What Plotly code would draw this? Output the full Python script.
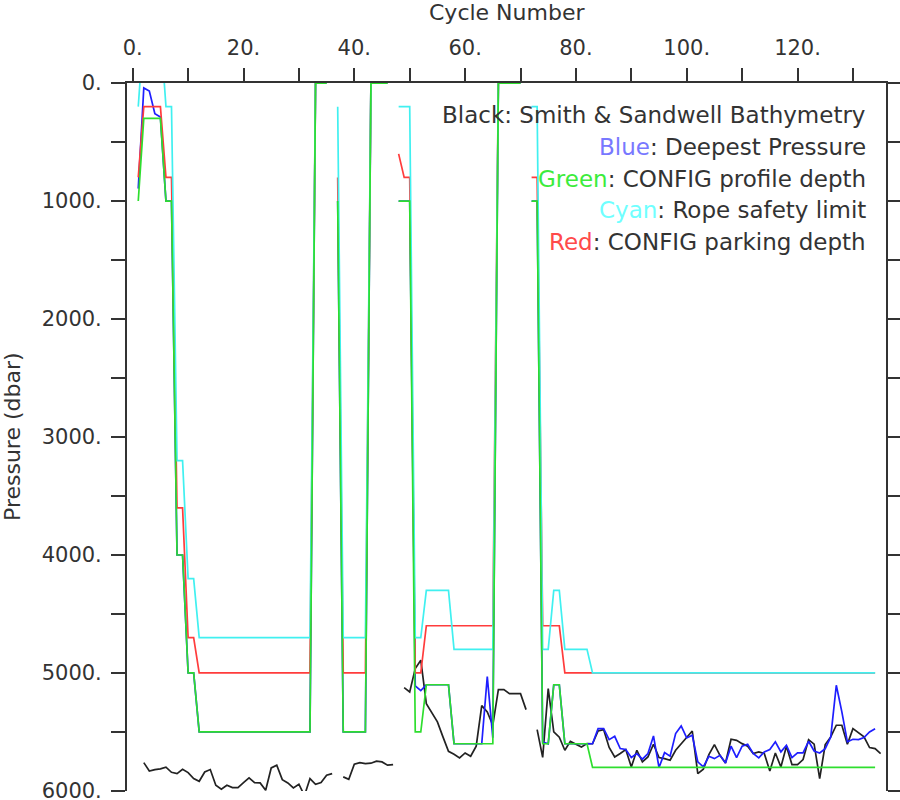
import plotly.graph_objects as go

# ---- data ----
cycles = list(range(1, 135))            # cycles for blue/green/cyan/red
black_cycles = list(range(2, 136))      # bathymetry is listed one cycle later

green = [
    1000, 300, 300, 300, 300, 1000, 1000, 4000, 4000, 5000,
    5000, 5500, 5500, 5500, 5500, 5500, 5500, 5500, 5500, 5500,
    5500, 5500, 5500, 5500, 5500, 5500, 5500, 5500, 5500, 5500,
    5500, 5500, 0, 0, 0, None, 1000, 5500, 5500, 5500,
    5500, 5500, 0, 0, 0, 0, None, 1000, 1000, 1000,
    5500, 5500, 5100, 5100, 5100, 5100, 5100, 5600, 5600, 5600,
    5600, 5600, 5600, 5600, 5600, 0, 0, 0, 0, 0,
    None, 1000, 1000, 5600, 5600, 5100, 5100, 5600, 5600, 5600,
    5600, 5600, 5800, 5800, 5800, 5800, 5800, 5800, 5800, 5800,
    5800, 5800, 5800, 5800, 5800, 5800, 5800, 5800, 5800, 5800,
    5800, 5800, 5800, 5800, 5800, 5800, 5800, 5800, 5800, 5800,
    5800, 5800, 5800, 5800, 5800, 5800, 5800, 5800, 5800, 5800,
    5800, 5800, 5800, 5800, 5800, 5800, 5800, 5800, 5800, 5800,
    5800, 5800, 5800, 5800,
]

red = [
    800, 200, 200, 200, 200, 800, 800, 3600, 3600, 4700,
    4700, 5000, 5000, 5000, 5000, 5000, 5000, 5000, 5000, 5000,
    5000, 5000, 5000, 5000, 5000, 5000, 5000, 5000, 5000, 5000,
    5000, 5000, 0, 0, 0, None, 800, 5000, 5000, 5000,
    5000, 5000, 0, 0, 0, 0, None, 600, 800, 800,
    5000, 5000, 4600, 4600, 4600, 4600, 4600, 4600, 4600, 4600,
    4600, 4600, 4600, 4600, 4600, 0, 0, 0, 0, 0,
    None, 800, 800, 4600, 4600, 4600, 4600, 5000, 5000, 5000,
    5000, 5000, 5000, 5000, 5000, 5000, 5000, 5000, 5000, 5000,
    5000, 5000, 5000, 5000, 5000, 5000, 5000, 5000, 5000, 5000,
    5000, 5000, 5000, 5000, 5000, 5000, 5000, 5000, 5000, 5000,
    5000, 5000, 5000, 5000, 5000, 5000, 5000, 5000, 5000, 5000,
    5000, 5000, 5000, 5000, 5000, 5000, 5000, 5000, 5000, 5000,
    5000, 5000, 5000, 5000,
]

cyan = [
    200, -470, -470, -470, -470, 200, 200, 3200, 3200, 4200,
    4200, 4700, 4700, 4700, 4700, 4700, 4700, 4700, 4700, 4700,
    4700, 4700, 4700, 4700, 4700, 4700, 4700, 4700, 4700, 4700,
    4700, 4700, 0, 0, 0, None, 200, 4700, 4700, 4700,
    4700, 4700, 0, 0, 0, 0, None, 200, 200, 200,
    4700, 4700, 4300, 4300, 4300, 4300, 4300, 4800, 4800, 4800,
    4800, 4800, 4800, 4800, 4800, 0, 0, 0, 0, 0,
    None, 200, 200, 4800, 4800, 4300, 4300, 4800, 4800, 4800,
    4800, 4800, 5000, 5000, 5000, 5000, 5000, 5000, 5000, 5000,
    5000, 5000, 5000, 5000, 5000, 5000, 5000, 5000, 5000, 5000,
    5000, 5000, 5000, 5000, 5000, 5000, 5000, 5000, 5000, 5000,
    5000, 5000, 5000, 5000, 5000, 5000, 5000, 5000, 5000, 5000,
    5000, 5000, 5000, 5000, 5000, 5000, 5000, 5000, 5000, 5000,
    5000, 5000, 5000, 5000,
]

blue = [
    895, 42, 68, 260, 288, 1000, 1000, 4000, 4000, 5000,
    5000, 5500, 5500, 5500, 5500, 5500, 5500, 5500, 5500, 5500,
    5500, 5500, 5500, 5500, 5500, 5500, 5500, 5500, 5500, 5500,
    5500, 5500, 0, 0, 0, None, 1000, 5500, 5500, 5500,
    5500, 5500, 0, 0, 0, 0, None, 1000, 1000, 1000,
    5110, 5150, 5100, 5100, 5100, 5100, 5100, 5600, 5600, 5600,
    5600, 5600, 5600, 5030, 5550, 0, 0, 0, 0, 0,
    None, 1000, 1000, 5585, 5600, 5100, 5100, 5600, 5600, 5600,
    5600, 5600, 5600, 5472, 5472, 5565, 5537, 5641, 5649, 5717,
    5683, 5731, 5683, 5534, 5802, 5675, 5706, 5514, 5449, 5551,
    5528, 5754, 5797, 5706, 5726, 5698, 5763, 5621, 5717, 5621,
    5604, 5683, 5720, 5669, 5649, 5584, 5669, 5613, 5717, 5678,
    5678, 5579, 5661, 5678, 5641, 5542, 5104, 5330, 5584, 5562,
    5565, 5548, 5500, 5472,
]

black = [
    5760, 5831, 5819, 5813, 5799, 5842, 5853, 5816, 5845,
    5895, 5918, 5839, 5819, 5952, 5986, 5952, 5972, 5972, 5929,
    5890, 5929, 5932, 5994, 5805, 5782, 5904, 5932, 5975, 5943,
    6040, 5895, 5943, 5929, 5867, 5853, None, 5881, 5901, 5774,
    5760, 5768, 5765, 5748, 5754, 5782, 5777, None, 5124, 5161,
    4963, 4892, 5260, 5339, 5415, 5542, 5664, 5689, 5720, 5678,
    5706, 5621, 5277, 5330, 5443, 5141, 5141, 5175, 5175, 5175,
    5311, None, 5480, 5715, 5133, 5500, 5545, 5655, 5580, 5604,
    5627, 5599, 5600, 5492, 5480, 5632, 5712, 5683, 5649, 5797,
    5655, 5754, 5712, 5604, 5717, 5726, 5740, 5655, 5599, 5542,
    5492, 5853, 5815, 5692, 5607, 5698, 5763, 5562, 5571, 5599,
    5621, 5683, 5669, 5683, 5831, 5678, 5797, 5621, 5777, 5777,
    5734, 5565, 5604, 5895, 5607, 5542, 5443, 5443, 5604, 5472,
    5508, 5542, 5632, 5641, 5683,
]

x_tickvals = [0, 10, 20, 30, 40, 50, 60, 70, 80, 90, 100, 110, 120, 130]
x_ticktext = ["0.", "", "20.", "", "40.", "", "60.", "", "80.", "", "100.", "", "120.", ""]
y_tickvals = [0, 500, 1000, 1500, 2000, 2500, 3000, 3500, 4000, 4500, 5000, 5500, 6000]
y_ticktext = ["0.", "", "1000.", "", "2000.", "", "3000.", "", "4000.", "", "5000.", "", "6000."]

legend_lines = [
    ("Black", "#333333", ": Smith & Sandwell Bathymetry"),
    ("Blue", "#7878ff", ": Deepest Pressure"),
    ("Green", "#3cec3c", ": CONFIG profile depth"),
    ("Cyan", "#70ffff", ": Rope safety limit"),
    ("Red", "#ff4a4a", ": CONFIG parking depth"),
]
legend_y = [274, 545, 816, 1079, 1350]

FONT = "DejaVu Sans"
TXT = "#333333"
LW = 1.7

fig = go.Figure()
fig.add_trace(go.Scatter(x=black_cycles, y=black, mode="lines",
                         line=dict(color="#222222", width=LW), connectgaps=False))
fig.add_trace(go.Scatter(x=cycles, y=blue, mode="lines",
                         line=dict(color="#1e1eff", width=LW), connectgaps=False))
fig.add_trace(go.Scatter(x=cycles, y=red, mode="lines",
                         line=dict(color="#ff3c3c", width=LW), connectgaps=False))
fig.add_trace(go.Scatter(x=cycles, y=cyan, mode="lines",
                         line=dict(color="#40f0f0", width=LW), connectgaps=False))
fig.add_trace(go.Scatter(x=cycles, y=green, mode="lines",
                         line=dict(color="#2ede2e", width=LW), connectgaps=False))

for (word, col, rest), yv in zip(legend_lines, legend_y):
    fig.add_annotation(x=132.7, y=yv, xref="x", yref="y", xanchor="right", yanchor="middle",
                       showarrow=False,
                       text=f'<span style="color:{col}">{word}</span>{rest}',
                       font=dict(family=FONT, size=23, color=TXT))

fig.add_annotation(x=0.5, y=1, xref="paper", yref="paper", xanchor="center", yanchor="middle",
                   yshift=71, showarrow=False, text="Cycle Number",
                   font=dict(family=FONT, size=22, color=TXT))
fig.add_annotation(x=0, y=0.5, xref="paper", yref="paper", xanchor="center", yanchor="middle",
                   xshift=12 - 127, showarrow=False, text="Pressure (dbar)", textangle=-90,
                   font=dict(family=FONT, size=22, color=TXT))

fig.update_layout(
    width=900, height=800,
    margin=dict(l=127, r=14, t=83, b=9, autoexpand=False),
    paper_bgcolor="white", plot_bgcolor="white",
    showlegend=False,
    xaxis=dict(side="top", range=[-1.03, 135.97], tickmode="array",
               tickvals=x_tickvals, ticktext=x_ticktext,
               ticks="outside", ticklen=13, tickwidth=1.5, tickcolor="#333333",
               showline=True, linewidth=2, linecolor="#333333", mirror=False,
               showgrid=False, zeroline=False, ticklabelstandoff=5,
               ticklabeloverflow="allow", automargin=False,
               tickfont=dict(family=FONT, size=21, color=TXT)),
    yaxis=dict(range=[6000.5, -0.5], tickmode="array",
               tickvals=y_tickvals, ticktext=y_ticktext,
               ticks="outside", ticklen=14, tickwidth=1.5, tickcolor="#333333",
               showline=True, linewidth=2, linecolor="#333333", mirror="ticks",
               showgrid=False, zeroline=False, ticklabelstandoff=5,
               ticklabeloverflow="allow", automargin=False,
               tickfont=dict(family=FONT, size=21, color=TXT)),
)

# remove the browser's default 8 px body margin so the 900x800 figure fills the window
fig.write_html("out.html",
               config={"displayModeBar": False},
               post_script="document.body.style.margin='0';document.body.style.overflow='hidden';")
